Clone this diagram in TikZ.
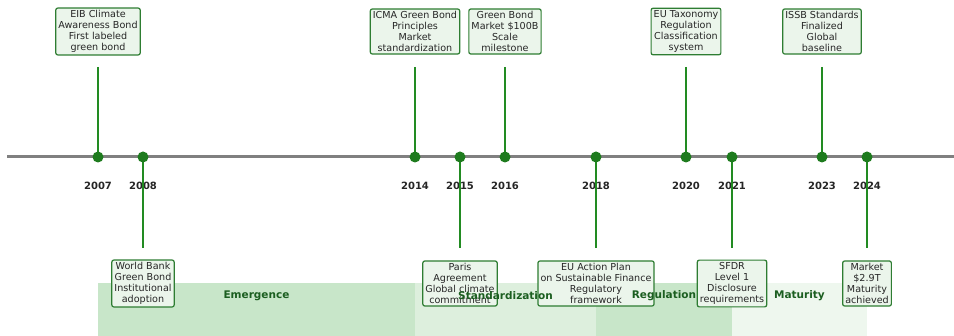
\documentclass[tikz,border=0pt]{standalone}
\usepackage{fontspec}
\setmainfont{DejaVu Sans}
\usepackage{tikz}
\usetikzlibrary{positioning,calc}
\definecolor{boxfill}{HTML}{EBF5EB}
\definecolor{boxline}{HTML}{2E7D32}
\definecolor{stemgreen}{HTML}{228B22}
\definecolor{dotgreen}{HTML}{1E7B1E}
\definecolor{phasetext}{HTML}{1B5E20}
\definecolor{phaseA}{HTML}{C8E6C9}
\definecolor{phaseB}{HTML}{DDEFDD}
\definecolor{phaseC}{HTML}{EEF7EE}
\tikzset{
  eventbox/.style={draw=boxline, line width=1.2pt, rounded corners=2pt, fill=boxfill, inner sep=2.6pt, align=center, font=\fontsize{9.6}{10.8}\selectfont, text=black!85},
  yeardot/.style={circle, fill=dotgreen, inner sep=0pt, minimum size=11pt},
  yearlabel/.style={font=\fontsize{10}{12}\selectfont\bfseries, text=black!85},
  stemline/.style={stemgreen, line width=1.8pt},
  phaselabel/.style={font=\fontsize{10.5}{12}\selectfont\bfseries, text=phasetext}
}
\begin{document}
\begin{tikzpicture}[x=1pt, y=-1pt]
  \useasboundingbox (0,0) rectangle (954,336);
  % phase bands
  \fill[phaseA] (98,283) rectangle (415,336);
  \fill[phaseB] (415,283) rectangle (596,336);
  \fill[phaseA] (596,283) rectangle (732,336);
  \fill[phaseC] (732,283) rectangle (867,336);
  % axis
  \coordinate (axl) at (7,157);
  \coordinate (axr) at (954,157);
  \draw[gray, line width=3pt] (axl) -- (axr);
  % top events
  \foreach \yr/\xx/\txt in {2007/98/{EIB Climate\\Awareness Bond\\First labeled\\green bond},
      2014/415/{ICMA Green Bond\\Principles\\Market\\standardization},
      2016/505/{Green Bond\\Market \$100B\\Scale\\milestone},
      2020/686/{EU Taxonomy\\Regulation\\Classification\\system},
      2023/822/{ISSB Standards\\Finalized\\Global\\baseline}}{
    \node[yearlabel] (y\yr) at (\xx,186) {\yr};
    \coordinate (s\yr) at (\xx,67);
    \draw[stemline] (s\yr) -- (\xx,157);
    \node[yeardot] (d\yr) at (\xx,157) {};
    \node[eventbox] (b\yr) at (\xx,31.5) {\txt};
  }
  % bottom events
  \foreach \yr/\xx/\txt in {2008/143/{World Bank\\Green Bond\\Institutional\\adoption},
      2015/460/{Paris\\Agreement\\Global climate\\commitment},
      2018/596/{EU Action Plan\\on Sustainable Finance\\Regulatory\\framework},
      2021/732/{SFDR\\Level 1\\Disclosure\\requirements},
      2024/867/{Market\\\$2.9T\\Maturity\\achieved}}{
    \node[yearlabel] (y\yr) at (\xx,186) {\yr};
    \coordinate (s\yr) at (\xx,248);
    \draw[stemline] (\xx,157) -- (s\yr);
    \node[yeardot] (d\yr) at (\xx,157) {};
    \node[eventbox] (b\yr) at (\xx,283.5) {\txt};
  }
  % phase names
  \node[phaselabel] (pEm) at (256.5,296) {Emergence};
  \node[phaselabel] (pSt) at (505.5,296) {Standardization};
  \node[phaselabel] (pRe) at (664,296) {Regulation};
  \node[phaselabel] (pMa) at (799.5,296) {Maturity};
\end{tikzpicture}
\end{document}
